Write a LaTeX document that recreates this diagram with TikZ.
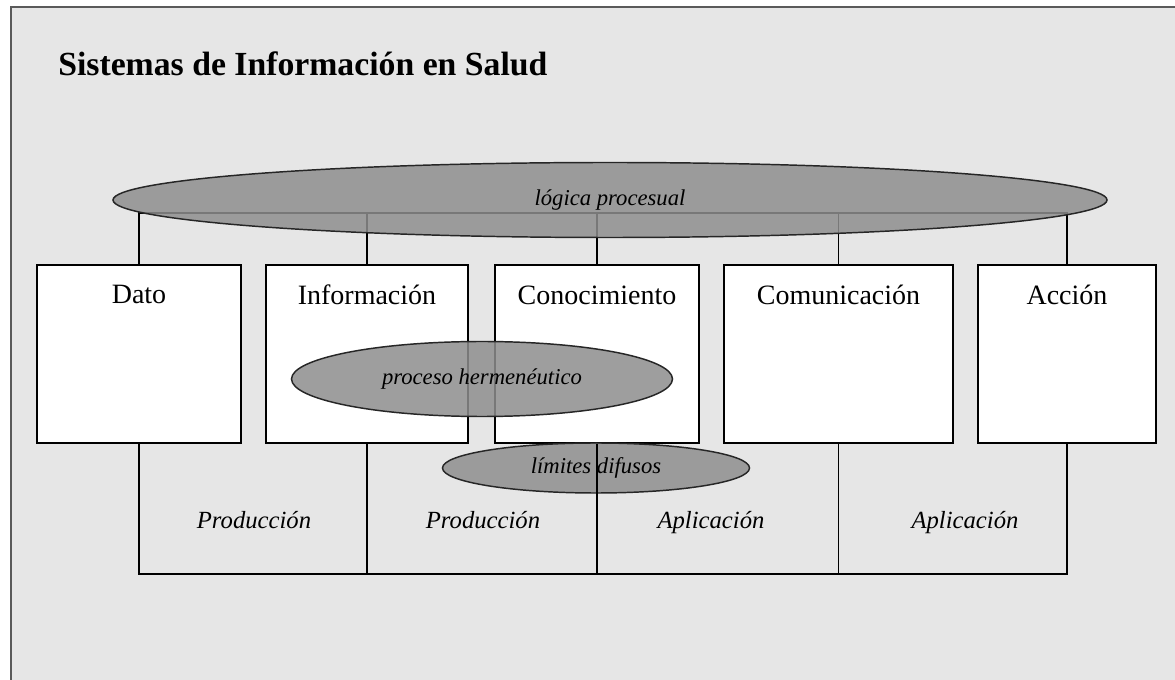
\documentclass[tikz,border=0pt]{standalone}
\usepackage{fontspec}
\setmainfont{Liberation Serif}
\usetikzlibrary{shapes.geometric}
\definecolor{fondo}{HTML}{E6E6E6}
\definecolor{marco}{HTML}{5A5A5A}
\definecolor{elipse}{HTML}{8E8E8E}

\begin{document}
\begin{tikzpicture}[x=0.75pt,y=-0.75pt,
		caja/.style={draw,line width=1.1pt,fill=white,minimum height=133.5pt,inner sep=0pt},
		nube/.style={ellipse,draw=black!85,line width=1.1pt,fill=elipse,fill opacity=0.85,text opacity=1,inner sep=0pt,font=\fontsize{17}{20}\selectfont\itshape},
		rotulo/.style={font=\fontsize{21}{24}\selectfont},
		fase/.style={anchor=base,font=\fontsize{18.5}{22}\selectfont\itshape},
		linea/.style={line width=1pt}]
	\useasboundingbox (0,0) rectangle (1175,680);
	\fill[white] (0,0) rectangle (1175,680);
	\draw[marco,line width=1.2pt,fill=fondo] (11,7) rectangle (1195,700);
	\node[anchor=base west,inner sep=0pt,font=\fontsize{25.3}{29}\selectfont\bfseries] (titulo) at (58,76) {Sistemas de Información en Salud};
	\coordinate (bussup) at (0,213);
	\coordinate (businf) at (0,574);
	\foreach \nombre/\texto/\cx/\ancho in {dato/Dato/139/153,info/Información/367/151.5,conoc/Conocimiento/597/153,comun/Comunicación/838.5/171.75,accion/Acción/1067/133.5}
	{
		\node[caja,minimum width=\ancho pt] (\nombre) at (\cx,354) {};
		\node[rotulo] (t\nombre) at ([yshift=-23pt]\nombre.north) {\texto};
	}
	\draw[linea] (dato.north) -- (dato.north |- bussup) -- (accion.north |- bussup) -- (accion.north);
	\foreach \n in {info,conoc,comun}
		\draw[linea] (\n.north) -- (\n.north |- bussup);
	\node[nube,minimum width=745.5pt,minimum height=56.25pt] (logica) at (610,200) {lógica procesual};
	\node[nube,minimum width=285.75pt,minimum height=56.25pt] (herme) at (482,379) {proceso hermenéutico};
	\node[nube,minimum width=230.25pt,minimum height=37.5pt] (limites) at (596,468) {límites difusos};
	\draw[linea] (dato.south) -- (dato.south |- businf) -- (accion.south |- businf) -- (accion.south);
	\foreach \n in {info,conoc,comun}
		\draw[linea] (\n.south) -- (\n.south |- businf);
	\node[fase] (prod1) at (254,529) {Producción};
	\node[fase] (prod2) at (483,529) {Producción};
	\node[fase] (apl1) at (711,529) {Aplicación};
	\node[fase] (apl2) at (965,529) {Aplicación};
\end{tikzpicture}
\end{document}
